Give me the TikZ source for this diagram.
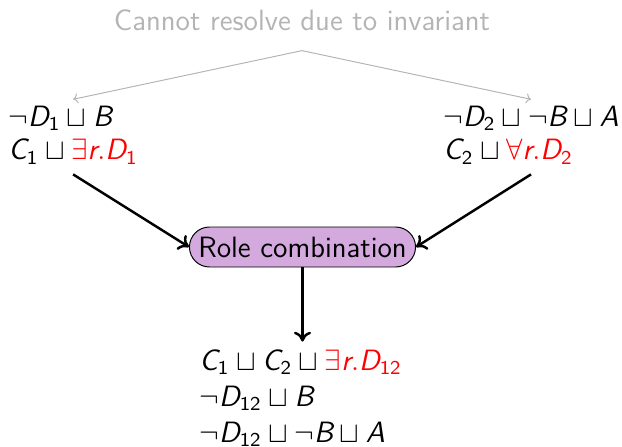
\documentclass[tikz,border=0pt]{standalone}
\usepackage{amsmath,amssymb}
\usetikzlibrary{arrows.meta,shapes.misc}
\renewcommand{\familydefault}{\sfdefault}
\newcommand{\mv}[1]{\textit{#1}}
\newcommand{\sn}[1]{\textsf{#1}}
\definecolor{rolefill}{RGB}{212,170,222}
\definecolor{notegray}{RGB}{180,180,180}
\begin{document}
\begin{tikzpicture}[x=0.408pt,y=-0.408pt,
  clause/.style={align=left,inner sep=0pt,font=\fontsize{12pt}{13.6pt}\selectfont},
  rolebox/.style={rounded rectangle,draw=black,fill=rolefill,minimum width=231*0.408pt,minimum height=40*0.408pt,inner sep=1pt,font=\fontsize{12pt}{14pt}\selectfont},
  mainarrow/.style={->,line width=1pt,>={To[length=4pt,width=7pt]}},
  notearrow/.style={->,draw=notegray,thin,>={To[length=2pt,width=4pt]}}]
\useasboundingbox (0,0) rectangle (622,446);
\node[font=\fontsize{12pt}{14pt}\selectfont,text=notegray,inner sep=0pt] (note) at (302,20) {Cannot resolve due to invariant};
\node[clause,anchor=west] (left) at (8,135) {$\neg\mv{D}_{\sn{1}}\sqcup\mv{B}$\\$\mv{C}_{\sn{1}}\sqcup\textcolor{red}{\exists\mv{r}.\mv{D}_{\sn{1}}}$};
\node[clause,anchor=west] (right) at (443,135) {$\neg\mv{D}_{\sn{2}}\sqcup\neg\mv{B}\sqcup\mv{A}$\\$\mv{C}_{\sn{2}}\sqcup\textcolor{red}{\forall\mv{r}.\mv{D}_{\sn{2}}}$};
\node[rolebox] (role) at (302.5,247) {Role combination};
\node[clause,anchor=west,font=\fontsize{12pt}{14.7pt}\selectfont] (bottom) at (199,398) {$\mv{C}_{\sn{1}}\sqcup\mv{C}_{\sn{2}}\sqcup\textcolor{red}{\exists\mv{r}.\mv{D}_{\sn{12}}}$\\$\neg\mv{D}_{\sn{12}}\sqcup\mv{B}$\\$\neg\mv{D}_{\sn{12}}\sqcup\neg\mv{B}\sqcup\mv{A}$};
\draw[notearrow] ([yshift=-8pt]note.south) -- ([yshift=2.5pt]left.north);
\draw[notearrow] ([yshift=-8pt]note.south) -- ([yshift=2.5pt]right.north);
\draw[mainarrow] ([yshift=-4pt]left.south) -- (role.west);
\draw[mainarrow] ([yshift=-4pt]right.south) -- (role.east);
\draw[mainarrow] (role.south) -- ([yshift=3pt]role.south |- bottom.north);
\end{tikzpicture}
\end{document}
